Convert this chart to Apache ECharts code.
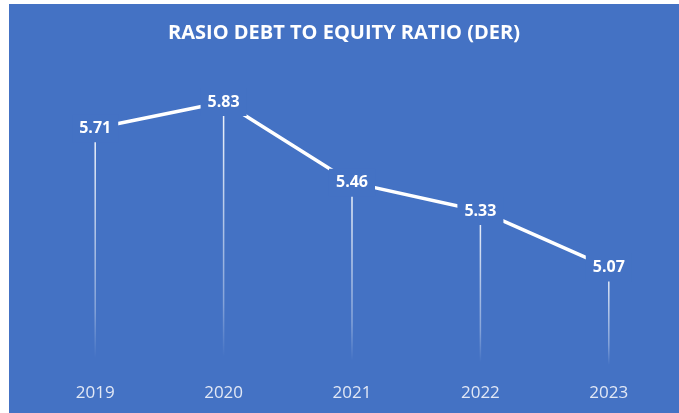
<!DOCTYPE html>
<html><head><meta charset="utf-8">
<script src="https://cdn.jsdelivr.net/npm/echarts@6/dist/echarts.min.js"></script>
<style>
html,body{margin:0;padding:0;background:#fff;width:679px;height:413px;overflow:hidden}
#c{position:absolute;left:9px;top:4px;width:670px;height:409px}
</style></head><body>
<div id="c"></div>
<script>
var categories = ['2019','2020','2021','2022','2023'];
var derValues = [5.71, 5.83, 5.46, 5.33, 5.07];
var titleText = 'RASIO DEBT TO EQUITY RATIO (DER)';
var BG = '#4472C4';
var chart = echarts.init(document.getElementById('c'));
chart.setOption({
  backgroundColor: BG,
  animation: false,
  title: {
    text: titleText, left: 'center', top: 14,
    textStyle: {color: '#fff', fontFamily: 'Open Sans', fontWeight: 'bold', fontSize: 20}
  },
  grid: {left: 22, right: 6, top: 61, bottom: 43},
  xAxis: {
    type: 'category', data: categories,
    axisLine: {show: false}, axisTick: {show: false},
    axisLabel: {color: '#e2e8f5', fontFamily: 'Open Sans', fontSize: 17, margin: 15}
  },
  yAxis: {type: 'value', min: 4.6, max: 6.0, show: false, splitLine: {show: false}},
  series: [
    {
      type: 'bar', data: derValues, barWidth: 1.5, silent: true, z: 1,
      itemStyle: {color: new echarts.graphic.LinearGradient(0, 0, 0, 1, [
        {offset: 0, color: 'rgba(255,255,255,0.95)'},
        {offset: 0.75, color: 'rgba(255,255,255,0.35)'},
        {offset: 0.95, color: 'rgba(255,255,255,0)'},
        {offset: 1, color: 'rgba(255,255,255,0)'}
      ])}
    },
    {
      type: 'line', data: derValues, z: 3,
      symbol: 'circle', symbolSize: 1, showSymbol: true,
      itemStyle: {color: 'rgba(0,0,0,0)'},
      lineStyle: {color: '#fff', width: 3.5},
      label: {
        show: true, position: 'inside',
        formatter: function(p){ return p.value.toFixed(2); },
        color: '#fff', fontFamily: 'Open Sans', fontWeight: 'bold', fontSize: 16,
        backgroundColor: BG, padding: [6, 7, 6, 7]
      }
    }
  ]
});
</script></body></html>
